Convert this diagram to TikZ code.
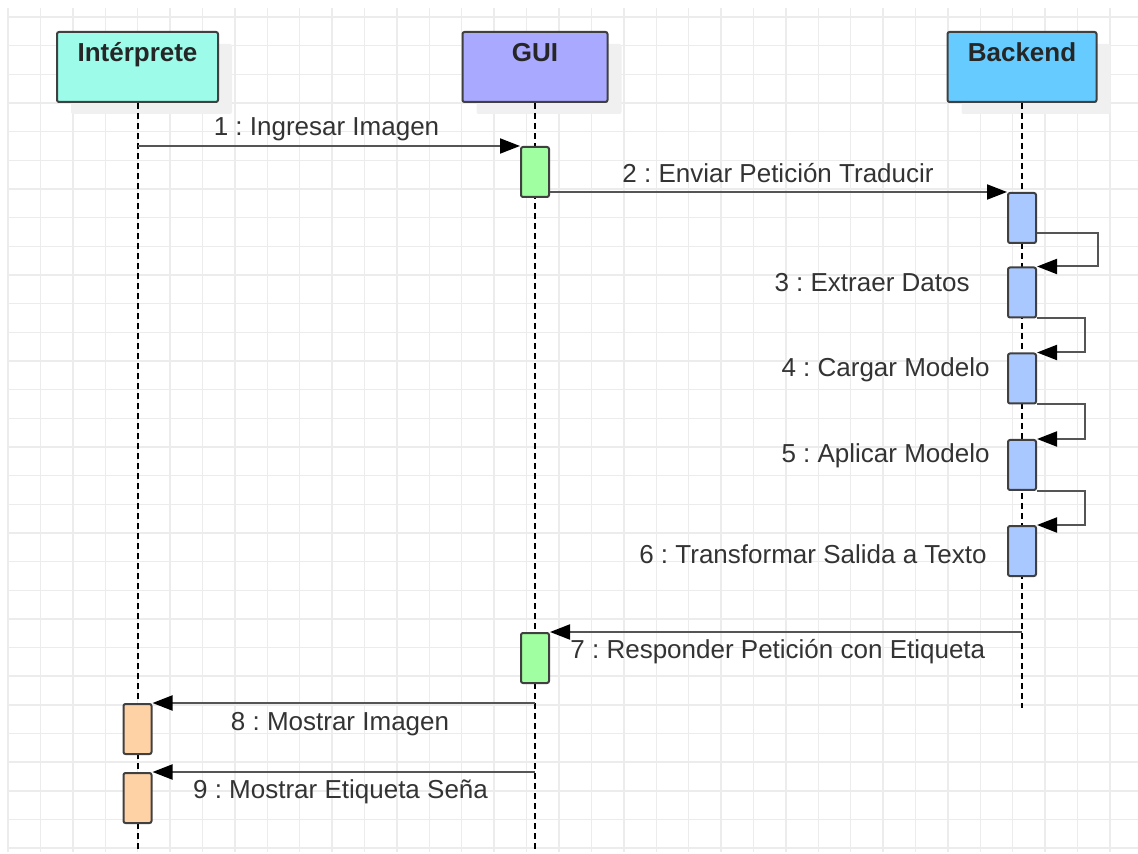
\documentclass[tikz,border=0pt]{standalone}
\usepackage{fontspec}
\setmainfont{Liberation Sans}
\usetikzlibrary{arrows.meta,shadows}
\definecolor{interp}{HTML}{9CFCE9}
\definecolor{guiblue}{HTML}{A9A9FF}
\definecolor{backblue}{HTML}{66CCFF}
\definecolor{actgreen}{HTML}{A0FFA0}
\definecolor{actblue}{HTML}{A9C8FF}
\definecolor{actorange}{HTML}{FFD2A6}
\definecolor{edge}{HTML}{404040}
\definecolor{wire}{HTML}{555555}
\definecolor{ink}{HTML}{333333}
\definecolor{gridc}{HTML}{ECECEC}
\frenchspacing
\tikzset{>={Triangle[length=10pt,width=7.5pt,color=black]},
  every node/.style={font=\fontsize{13}{15}\selectfont},
  gridln/.style={draw=gridc,line width=.7pt},
  head/.style={draw=edge,line width=1pt,rounded corners=1pt,minimum height=35pt,inner sep=0pt,
    text height=15pt,text depth=20pt,font=\fontsize{13}{15}\selectfont\bfseries,text=black!85,
    drop shadow={shadow xshift=7pt,shadow yshift=-6pt,fill=black!6,opacity=1}},
  life/.style={draw=black,line width=1pt,dash pattern=on 3pt off 2pt},
  act/.style={draw=edge,line width=1pt,rounded corners=1pt,minimum width=14pt,minimum height=25pt,inner sep=0pt},
  msg/.style={->,draw=wire,line width=1pt},
  lbl/.style={text=ink,inner sep=1pt,text height=9pt,text depth=3pt}}

\begin{document}
\begin{tikzpicture}[x=.5pt,y=-.5pt]
\useasboundingbox (0,0) rectangle (1138,854);
% Background grid.
\foreach \i in {0,...,34} \draw[gridln] ({8+32.41*\i},8) -- ({8+32.41*\i},852);
\foreach \j in {0,...,29} \draw[gridln] (8,{17+28.66*\j}) -- (1138,{17+28.66*\j});
% Lifeline heads and their dashed lines.
\node[head,fill=interp,minimum width=80.5pt] (int) at (137.5,67) {Intérprete};
\node[head,fill=guiblue,minimum width=72.5pt] (gui) at (535,67) {GUI};
\node[head,fill=backblue,minimum width=74.5pt] (back) at (1022,67) {Backend};
\coordinate (intEnd) at (137.5,850);\coordinate (guiEnd) at (535,850);\coordinate (backEnd) at (1022,708);
\draw[life] (int.south) -- (intEnd);\draw[life] (gui.south) -- (guiEnd);\draw[life] (back.south) -- (backEnd);
% Activation bars.
\node[act,fill=actgreen] (g1) at (535,172) {};\node[act,fill=actgreen] (g7) at (535,658) {};
\node[act,fill=actblue] (b2) at (1022,218) {};\node[act,fill=actblue] (b3) at (1022,292.5) {};
\node[act,fill=actblue] (b4) at (1022,378.5) {};\node[act,fill=actblue] (b5) at (1022,465) {};
\node[act,fill=actblue] (b6) at (1022,551) {};
\node[act,fill=actorange] (i8) at (137.5,729) {};\node[act,fill=actorange] (i9) at (137.5,798) {};
% Messages, self calls on the backend bar.
\draw[msg] (int.south |- g1.north) -- (g1.north west);
\draw[msg] (g1.east |- b2.north) -- (b2.north west);
\draw[msg] ([yshift=5.5pt]b2.south east) -- ++(61,0) |- (b3.north east);
\draw[msg] (b3.south east) -- ++(48,0) |- (b4.north east);
\draw[msg] (b4.south east) -- ++(48,0) |- (b5.north east);
\draw[msg] (b5.south east) -- ++(48,0) |- (b6.north east);
\draw[msg] (back.south |- g7.north) -- (g7.north east);
\draw[msg] (gui.south |- i8.north) -- (i8.north east);
\draw[msg] (gui.south |- i9.north) -- (i9.north east);
\node[lbl] (m1) at (326.5,130) {1 : Ingresar Imagen};
\node[lbl] (m2) at (778,177) {2 : Enviar Petición Traducir};
\node[lbl,anchor=east] (m3) at (972,286) {3 : Extraer Datos};
\node[lbl,anchor=east] (m4) at (992,371) {4 : Cargar Modelo};
\node[lbl,anchor=east] (m5) at (992,457) {5 : Aplicar Modelo};
\node[lbl,anchor=east] (m6) at (989,557) {6 : Transformar Salida a Texto};
\node[lbl,anchor=west] (m7) at (568,652) {7 : Responder Petición con Etiqueta};
\node[lbl] (m8) at (340,724) {8 : Mostrar Imagen};
\node[lbl] (m9) at (340.5,792) {9 : Mostrar Etiqueta Seña};
\end{tikzpicture}
\end{document}
